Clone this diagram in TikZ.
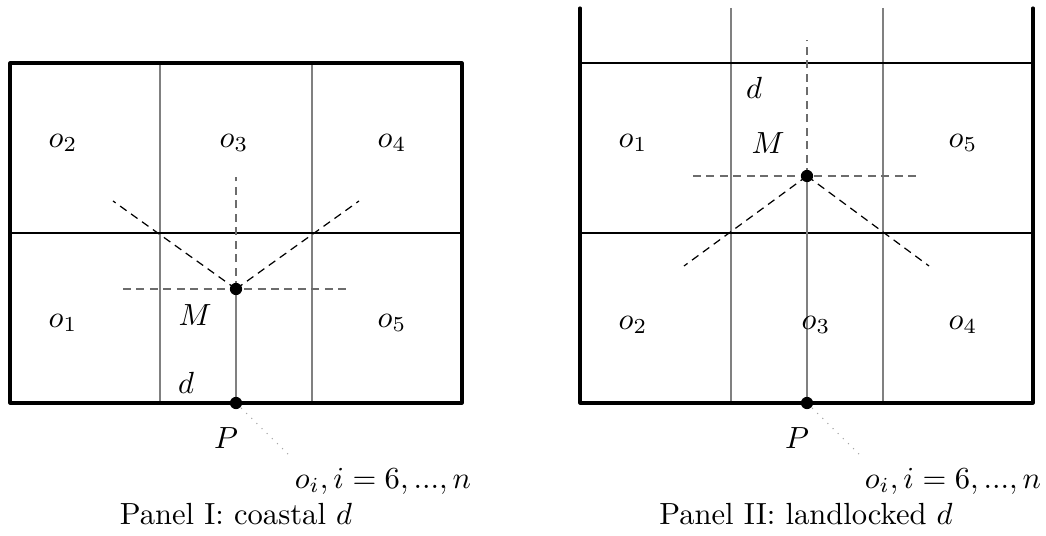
\documentclass[tikz,border=0pt]{standalone}
\begin{document}
\begin{tikzpicture}[x=0.327pt,y=-0.327pt,
  wall/.style={line width=1pt,line cap=round,line join=round},
  grid/.style={gray,line width=0.45pt},
  hline/.style={black,line width=0.4pt},
  dsh/.style={dash pattern=on 2.6pt off 1.8pt,line width=0.4pt},
  gdsh/.style={dsh,gray!85!black},
  dotc/.style={gray!70,dotted,line width=0.35pt},
  pt/.style={circle,fill=black,inner sep=0pt,minimum size=4pt},
  lab/.style={inner sep=0pt}]
\useasboundingbox (0,0) rectangle (1046,536);

% ---------- Panel I ----------
\coordinate (aTL) at (10,63); \coordinate (aTR) at (462,63);
\coordinate (aBL) at (10,403); \coordinate (aBR) at (462,403);
\coordinate (aV1t) at (160,63); \coordinate (aV1b) at (160,403);
\coordinate (aV2t) at (312,63); \coordinate (aV2b) at (312,403);
\coordinate (aHl) at (10,233); \coordinate (aHr) at (462,233);
\coordinate (aM) at (236,289); \coordinate (aP) at (236,403);
\coordinate (aUp) at (236,177);
\coordinate (aLl) at (123,289); \coordinate (aLr) at (349,289);
\coordinate (aDl) at (113,201); \coordinate (aDr) at (359,201);
\coordinate (aOi) at (291,457);

\draw[grid] (aV1t) -- (aV1b);
\draw[grid] (aV2t) -- (aV2b);
\draw[hline] (aHl) -- (aHr);
\draw[grid] (aM) -- (aP);
\draw[gdsh] (aM) -- (aUp);
\draw[gdsh] (aLl) -- (aLr);
\draw[dsh] (aM) -- (aDl);
\draw[dsh] (aM) -- (aDr);
\draw[dotc] (aP) -- (aOi);
\draw[wall] (aTL) -- (aTR) -- (aBR) -- (aBL) -- cycle;
\node[pt] (aMdot) at (aM) {};
\node[pt] (aPdot) at (aP) {};

\node[lab] (ao2) at (63,143) {$o_2$};
\node[lab] (ao3) at (234,143) {$o_3$};
\node[lab] (ao4) at (392,143) {$o_4$};
\node[lab] (ao1) at (63,323) {$o_1$};
\node[lab] (ao5) at (392,323) {$o_5$};
\node[lab] (aMl) at (195,315) {$M$};
\node[lab] (adl) at (186,383) {$d$};
\node[lab] (aPl) at (226,438) {$P$};
\node[lab] (aoil) at (383,481) {$o_i, i=6,...,n$};
\node[lab] (acap) at (236,514) {Panel I: coastal $d$};

% ---------- Panel II ----------
\coordinate (bTL) at (580,8); \coordinate (bTR) at (1033,8);
\coordinate (bBL) at (580,403); \coordinate (bBR) at (1033,403);
\coordinate (bV1t) at (731,8); \coordinate (bV1b) at (731,403);
\coordinate (bV2t) at (883,8); \coordinate (bV2b) at (883,403);
\coordinate (bH1l) at (580,63); \coordinate (bH1r) at (1033,63);
\coordinate (bH2l) at (580,233); \coordinate (bH2r) at (1033,233);
\coordinate (bM) at (807,176); \coordinate (bP) at (807,403);
\coordinate (bUp) at (807,40);
\coordinate (bLl) at (693,176); \coordinate (bLr) at (920,176);
\coordinate (bDl) at (684,266); \coordinate (bDr) at (929,266);
\coordinate (bOi) at (862,457);

\draw[grid] (bV1t) -- (bV1b);
\draw[grid] (bV2t) -- (bV2b);
\draw[hline] (bH1l) -- (bH1r);
\draw[hline] (bH2l) -- (bH2r);
\draw[grid] (bM) -- (bP);
\draw[gdsh] (bM) -- (bUp);
\draw[gdsh] (bLl) -- (bLr);
\draw[dsh] (bM) -- (bDl);
\draw[dsh] (bM) -- (bDr);
\draw[dotc] (bP) -- (bOi);
\draw[wall] (bTL) -- (bBL) -- (bBR) -- (bTR);
\node[pt] (bMdot) at (bM) {};
\node[pt] (bPdot) at (bP) {};

\node[lab] (bdl) at (754,88) {$d$};
\node[lab] (bMl) at (768,143) {$M$};
\node[lab] (bo1) at (633,143) {$o_1$};
\node[lab] (bo5) at (963,143) {$o_5$};
\node[lab] (bo2) at (633,325) {$o_2$};
\node[lab] (bo3) at (816,325) {$o_3$};
\node[lab] (bo4) at (963,325) {$o_4$};
\node[lab] (bPl) at (797,438) {$P$};
\node[lab] (boil) at (953,481) {$o_i, i=6,...,n$};
\node[lab] (bcap) at (806,514) {Panel II: landlocked $d$};
\end{tikzpicture}
\end{document}
